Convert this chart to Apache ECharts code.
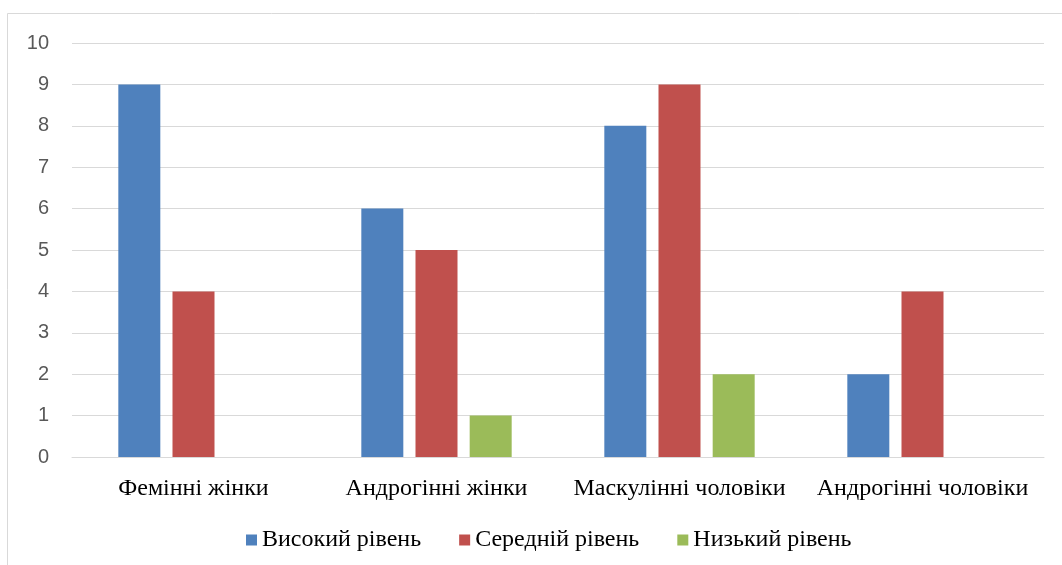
<!DOCTYPE html>
<html><head><meta charset="utf-8">
<script src="https://cdn.jsdelivr.net/npm/echarts@6/dist/echarts.min.js"></script>
<style>html,body{margin:0;padding:0;background:#fff}#c{width:1062px;height:565px}</style>
</head><body><div id="c"></div>
<script>
const categories = ['Фемінні жінки', 'Андрогінні жінки', 'Маскулінні чоловіки', 'Андрогінні чоловіки'];
const seriesNames = ['Високий рівень', 'Середній рівень', 'Низький рівень'];
const high = [9, 6, 8, 2];
const medium = [4, 5, 9, 4];
const low = [0, 1, 2, 0];
const colors = ['#4F81BD', '#C0504D', '#9BBB59'];

const chart = echarts.init(document.getElementById('c'), null, {renderer: 'canvas'});
const mk = (name, data, i) => ({
  name, type: 'bar', data, barWidth: 42, barGap: '29%',
  itemStyle: {color: colors[i]}
});
chart.setOption({
  animation: false,
  backgroundColor: '#fff',
  graphic: [{type: 'rect', shape: {x: 7.5, y: 13.5, width: 1070, height: 570},
    style: {fill: 'none', stroke: '#D9D9D9', lineWidth: 1}, silent: true}],
  grid: {left: 72, right: 18, top: 43, bottom: 108, containLabel: false},
  legend: {
    top: 528, left: 246, padding: 0, itemWidth: 11, itemHeight: 11, itemGap: 38,
    icon: 'rect',
    textStyle: {fontFamily: 'Liberation Serif', fontSize: 24, color: '#000'},
    data: seriesNames
  },
  xAxis: {
    type: 'category', data: categories,
    axisLine: {lineStyle: {color: '#D9D9D9'}},
    axisTick: {show: false},
    axisLabel: {interval: 0, fontFamily: 'Liberation Serif', fontSize: 24, color: '#000', margin: 20}
  },
  yAxis: {
    type: 'value', min: 0, max: 10, interval: 1,
    axisLine: {show: false}, axisTick: {show: false},
    splitLine: {lineStyle: {color: '#D9D9D9', width: 1}},
    axisLabel: {fontFamily: 'Liberation Sans', fontSize: 20, color: '#595959', margin: 23}
  },
  series: [mk(seriesNames[0], high, 0), mk(seriesNames[1], medium, 1), mk(seriesNames[2], low, 2)]
});
</script></body></html>
